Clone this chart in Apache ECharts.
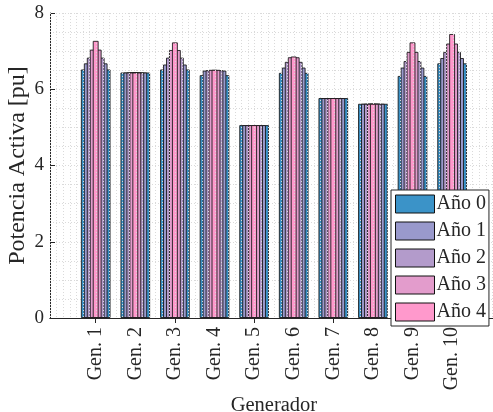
<!DOCTYPE html>
<html>
<head>
<meta charset="utf-8">
<script src="https://cdn.jsdelivr.net/npm/echarts@6/dist/echarts.min.js"></script>
<style>html,body{margin:0;padding:0;background:#fff}#c{width:493px;height:412px}</style>
</head>
<body>
<div id="c"></div>
<script>
const categories = ['Gen. 1','Gen. 2','Gen. 3','Gen. 4','Gen. 5','Gen. 6','Gen. 7','Gen. 8','Gen. 9','Gen. 10'];
const seriesNames = ['Año 0','Año 1','Año 2','Año 3','Año 4'];
const ano0 = [6.52, 6.44, 6.52, 6.37, 5.06, 6.43, 5.77, 5.62, 6.35, 6.68];
const ano1 = [6.68, 6.44, 6.65, 6.49, 5.06, 6.57, 5.77, 5.62, 6.57, 6.82];
const ano2 = [6.83, 6.44, 6.83, 6.50, 5.06, 6.72, 5.77, 5.62, 6.74, 6.98];
const ano3 = [7.04, 6.44, 7.03, 6.51, 5.06, 6.84, 5.77, 5.62, 6.98, 7.20];
const ano4 = [7.27, 6.44, 7.23, 6.51, 5.06, 6.86, 5.77, 5.62, 7.23, 7.45];
const yTicks = [0, 2, 4, 6, 8];

const values = [ano0, ano1, ano2, ano3, ano4];
const colors = ['#3b93c8', '#9999cc', '#b39bcb', '#e39ccc', '#ff99cc'];
const widths = ['75%', '60%', '45%', '30%', '15%'];
const font = 'Liberation Serif';
const txt = '#262626';
const gridCol = '#dadada';

const chart = echarts.init(document.getElementById('c'), null, {renderer: 'canvas'});

const frameTop = 13, frameBottom = 94;
const grids = [
  {left: 50, right: -6, top: frameTop, bottom: frameBottom, outerBoundsMode: 'none', containLabel: false},
  {left: 75.9, width: 396, top: frameTop, bottom: frameBottom, outerBoundsMode: 'none', containLabel: false}
];

const xAxes = [
  { // frame bottom with vertical dotted grid
    type: 'value', gridIndex: 0, min: 0, max: 68, interval: 1, position: 'bottom',
    axisLine: {show: true, onZero: false, lineStyle: {color: txt, width: 1}},
    axisTick: {show: false}, axisLabel: {show: false},
    splitLine: {show: true, lineStyle: {color: gridCol, type: [1, 2], width: 1}},
    z: 10
  },
  { // frame top
    type: 'value', gridIndex: 0, min: 0, max: 68, position: 'top',
    axisLine: {show: true, lineStyle: {color: txt, width: 1}},
    axisTick: {show: false}, axisLabel: {show: false}, splitLine: {show: false}
  },
  { // top ticks at categories
    type: 'category', gridIndex: 1, data: categories, position: 'top',
    axisLine: {show: false},
    axisTick: {show: true, inside: true, length: 5, alignWithLabel: true, lineStyle: {color: txt}},
    axisLabel: {show: false}, splitLine: {show: false}
  }
];
// one axis per series so that overlapping bars are centred independently
values.forEach((v, i) => {
  xAxes.push({
    type: 'category', gridIndex: 1, data: categories, position: 'bottom',
    show: i === 0,
    axisLine: {show: false}, axisTick: {show: false},
    axisLabel: {show: i === 0, rotate: 90, fontFamily: font, fontSize: 20, color: txt, margin: 9},
    name: i === 0 ? 'Generador' : '', nameLocation: 'middle', nameGap: 77,
    nameMoveOverlap: false,
    nameTextStyle: {fontFamily: font, fontSize: 20.5, color: txt}
  });
});

const yAxes = [
  {
    type: 'value', gridIndex: 0, min: 0, max: 8, interval: 2, position: 'left',
    axisLine: {show: true, lineStyle: {color: txt}},
    axisTick: {show: true, inside: true, length: 5, lineStyle: {color: txt}},
    axisLabel: {fontFamily: font, fontSize: 19, color: txt, margin: 6,
      formatter: v => yTicks.includes(v) ? String(v) : ''},
    splitLine: {show: true, lineStyle: {color: gridCol, type: [1, 2]}},
    minorSplitLine: {show: true, lineStyle: {color: gridCol, type: [1, 2]}},
    minorTick: {show: false, splitNumber: 4},
    name: 'Potencia Activa [pu]', nameLocation: 'middle', nameGap: 20,
    nameMoveOverlap: false,
    nameTextStyle: {fontFamily: font, fontSize: 24, color: txt}
  },
  {type: 'value', gridIndex: 1, min: 0, max: 8, show: false}
];

const series = values.map((v, i) => ({
  type: 'bar', name: seriesNames[i],
  xAxisIndex: 3 + i, yAxisIndex: 1,
  data: v, barWidth: widths[i],
  itemStyle: {color: colors[i], borderColor: 'rgba(20,20,20,0.85)', borderWidth: 1},
  z: 2 + i
}));

chart.setOption({
  animation: false,
  backgroundColor: '#fff',
  grid: grids,
  xAxis: xAxes,
  yAxis: yAxes,
  legend: {
    orient: 'vertical', left: 391, top: 190, z: 50,
    data: seriesNames,
    itemWidth: 39, itemHeight: 18, itemGap: 7,
    padding: [4, 3, 4, 4],
    backgroundColor: '#fff', borderColor: txt, borderWidth: 1,
    icon: 'rect',
    itemStyle: {borderColor: '#111', borderWidth: 1},
    textStyle: {fontFamily: font, fontSize: 20, color: txt, padding: [0, 0, 0, -3]}
  },
  series: series
});
</script>
</body>
</html>
